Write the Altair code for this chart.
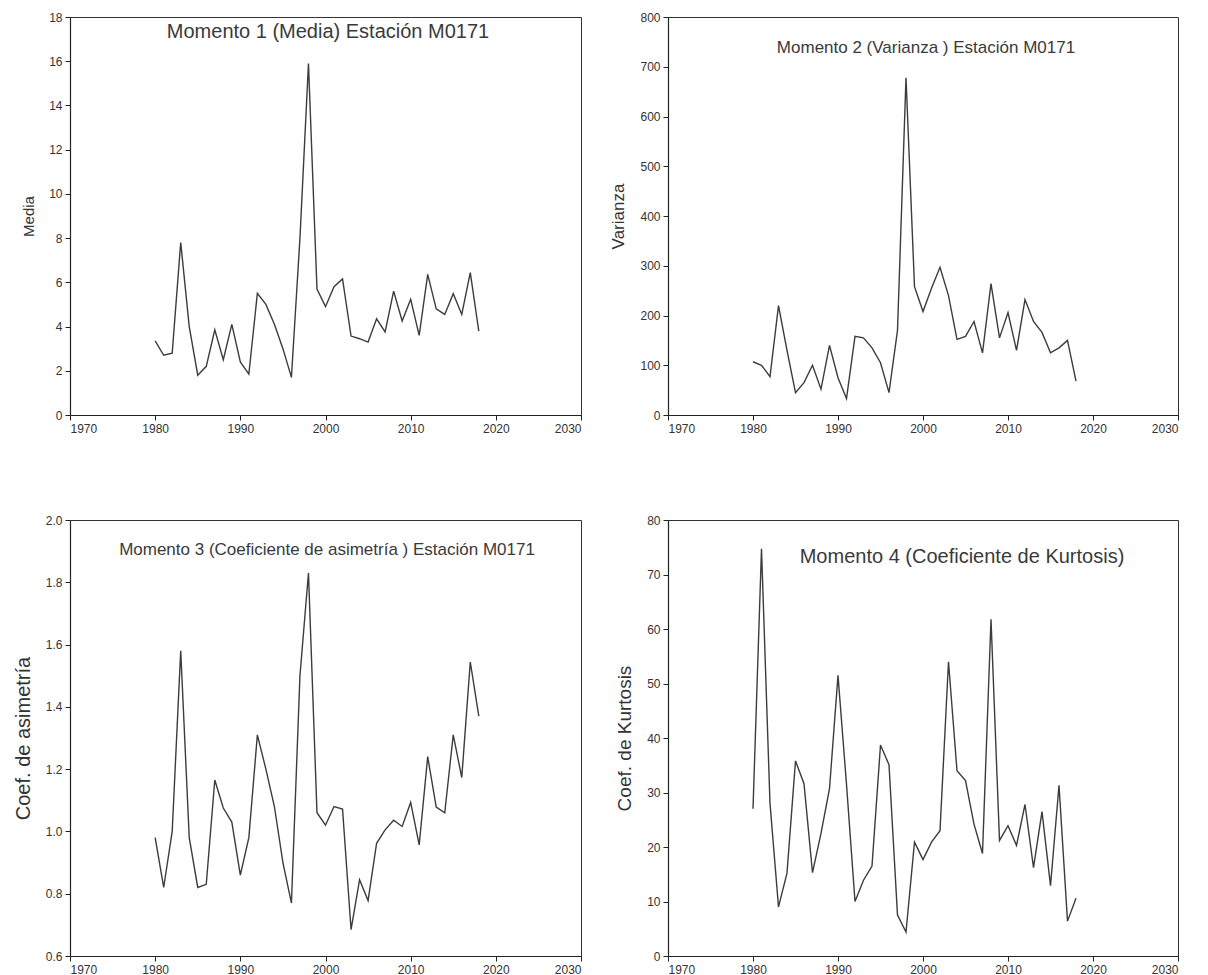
import altair as alt
import pandas as pd

# Annual series for station M0171, 1980-2018
years = list(range(1980, 2019))

media = [3.35, 2.7, 2.8, 7.8, 4.0, 1.8, 2.2, 3.85, 2.5, 4.1,
         2.4, 1.85, 5.5, 5.0, 4.1, 3.0, 1.7, 8.0, 15.9, 5.7,
         4.9, 5.8, 6.15, 3.57, 3.45, 3.3, 4.35, 3.76, 5.6, 4.25,
         5.23, 3.6, 6.36, 4.8, 4.55, 5.49, 4.55, 6.44, 3.79]

varianza = [107, 100, 77, 220, 130, 45, 65, 100, 52, 140,
            75, 33, 158, 155, 135, 105, 45, 170, 678, 258,
            208, 255, 297, 240, 152, 158, 188, 125, 264, 155,
            206, 130, 232, 188, 166, 125, 135, 150, 68]

asimetria = [0.98, 0.82, 1.0, 1.58, 0.98, 0.82, 0.83, 1.165, 1.075, 1.03,
             0.86, 0.98, 1.31, 1.2, 1.08, 0.9, 0.77, 1.5, 1.83, 1.06,
             1.02, 1.08, 1.072, 0.685, 0.845, 0.778, 0.962, 1.005, 1.036, 1.016,
             1.093, 0.957, 1.24, 1.078, 1.06, 1.31, 1.173, 1.544, 1.37]

kurtosis = [27.0, 74.7, 28.0, 9.0, 15.2, 35.8, 31.6, 15.3, 22.5, 30.7,
            51.5, 31.5, 10.0, 13.9, 16.5, 38.7, 35.1, 7.5, 4.4, 20.9,
            17.7, 20.9, 23.0, 54.0, 34.0, 32.2, 24.2, 18.8, 61.8, 21.2,
            23.9, 20.3, 27.8, 16.2, 26.5, 12.9, 31.3, 6.4, 10.6]

x_ticks = [1970, 1980, 1990, 2000, 2010, 2020, 2030]

FONT = "Liberation Sans, Arial"
INK = "#333333"


def panel(values, y_title, y_domain, y_ticks, y_fmt, title, title_x, title_y,
          title_size, width, height, axis_title_size):
    df = pd.DataFrame({"Año": years, "valor": values})
    line = alt.Chart(df).mark_line(color="#3c3c3c", strokeWidth=1.4).encode(
        x=alt.X(
            "Año:Q",
            scale=alt.Scale(domain=[1970, 2030], nice=False, zero=False),
            axis=alt.Axis(values=x_ticks, format="d", title=None),
        ),
        y=alt.Y(
            "valor:Q",
            scale=alt.Scale(domain=y_domain, nice=False, zero=False),
            axis=alt.Axis(values=y_ticks, format=y_fmt, title=y_title,
                          titleFontSize=axis_title_size),
        ),
    )
    label = alt.Chart(pd.DataFrame({"t": [title]})).mark_text(
        font=FONT, fontSize=title_size, color="#3a3a3a",
        align="center", baseline="middle",
    ).encode(text="t:N", x=alt.value(title_x), y=alt.value(title_y))
    return alt.layer(line, label).properties(width=width, height=height)


p1 = panel(media, "Media", [0, 18], list(range(0, 19, 2)), "d",
           "Momento 1 (Media) Estación M0171", 258, 15, 20,
           511, 398, 15)
p2 = panel(varianza, "Varianza", [0, 800], list(range(0, 801, 100)), "d",
           "Momento 2 (Varianza ) Estación M0171", 258, 31, 17,
           510, 398, 17)
p3 = panel(asimetria, "Coef. de asimetría", [0.6, 2.0],
           [0.6, 0.8, 1.0, 1.2, 1.4, 1.6, 1.8, 2.0], ".1f",
           "Momento 3 (Coeficiente de asimetría ) Estación M0171", 257, 30, 17,
           511, 436, 20)
p4 = panel(kurtosis, "Coef. de Kurtosis", [0, 80], list(range(0, 81, 10)), "d",
           "Momento 4 (Coeficiente de Kurtosis)", 294, 37, 20,
           510, 436, 19)

chart = alt.vconcat(
    alt.hconcat(p1, p2, spacing=87, bounds="flush"),
    alt.hconcat(p3, p4, spacing=87, bounds="flush"),
    spacing=78,
).configure_view(
    stroke=INK, strokeWidth=1
).configure_axis(
    domainColor="#222222", domainWidth=1.2, tickColor="#222222", tickSize=5,
    grid=False, labelFont=FONT, labelFontSize=12, labelColor="#333333",
    titleFont=FONT, titleFontWeight="normal", titleColor="#333333",
    labelPadding=3,
).configure_axisY(
    titlePadding=12,
).properties(
    background="white",
    padding={"left": 12, "top": 10, "right": 10, "bottom": 5},
)

chart.save("out.html", embed_options={"renderer": "svg", "actions": False})
